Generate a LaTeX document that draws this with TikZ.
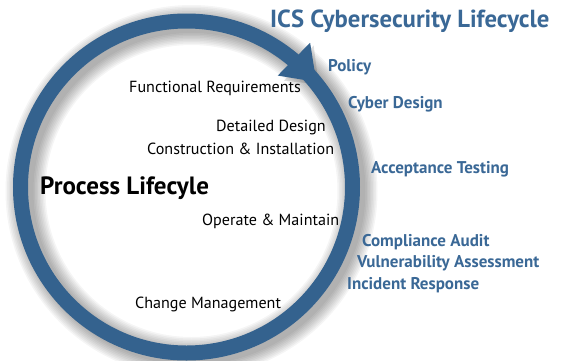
\documentclass[tikz,border=0pt]{standalone}
\usepackage{fontspec}
\setmainfont{PT Sans}
\usetikzlibrary{positioning,calc}
\definecolor{ringblue}{RGB}{52,98,142}
\definecolor{labelblue}{RGB}{58,104,150}
\tikzset{
    stagelabel/.style={anchor=west, inner sep=0pt, text=black, font=\fontsize{16.1}{18}\selectfont},
    cyberlabel/.style={anchor=west, inner sep=0pt, text=labelblue, font=\fontsize{17}{19}\selectfont\bfseries},
    ring/.style={draw=ringblue, line width=15pt}
}
\begin{document}
\begin{tikzpicture}[x=1pt, y=-1pt]
    \useasboundingbox (0,0) rectangle (563,360);
    \coordinate (C) at (186.5,187);

    % soft shadow of the ring
    \foreach \i in {1,...,9} {
        \draw[black, opacity=0.04, line width=13pt+3pt*\i] ($(C)+(5,4)$) circle (166);
    }
    \fill[black, opacity=0.12] ($(C)+(5,4)+(-50:190)$) -- ($(C)+(5,4)+(-40:166)$) -- ($(C)+(5,4)+(-50:144)$) -- cycle;

    % process ring and arrow head
    \draw[ring] (C) circle (166);
    \fill[ringblue] ($(C)+(-49.4:190)$) coordinate (barbout)
        -- ($(C)+(-39:167)$) coordinate (tip)
        -- ($(C)+(-50.7:144)$) coordinate (barbin) -- cycle;

    % titles
    \node[anchor=west, inner sep=0pt, text=labelblue, font=\fontsize{24.7}{28}\selectfont\bfseries] (title) at (270,21) {ICS Cybersecurity Lifecycle};
    \node[anchor=west, inner sep=0pt, font=\fontsize{25}{28}\selectfont\bfseries] (process) at (40,188) {Process Lifecyle};

    % process stages
    \foreach \name/\x/\y/\txt in {funcreq/129/88/Functional Requirements,
                                  detdesign/216/128/Detailed Design,
                                  construction/147/149/Construction \& Installation,
                                  operate/202/221/Operate \& Maintain,
                                  change/135/304/Change Management} {
        \node[stagelabel] (\name) at (\x,\y) {\txt};
    }

    % cybersecurity stages
    \foreach \name/\x/\y/\txt in {policy/328/67/Policy,
                                  cyberdesign/348/104/Cyber Design,
                                  acceptance/371/169/Acceptance Testing,
                                  compliance/362/242/Compliance Audit,
                                  vulnerability/357/263/Vulnerability Assessment,
                                  incident/347/285/Incident Response} {
        \node[cyberlabel] (\name) at (\x,\y) {\txt};
    }
\end{tikzpicture}
\end{document}
